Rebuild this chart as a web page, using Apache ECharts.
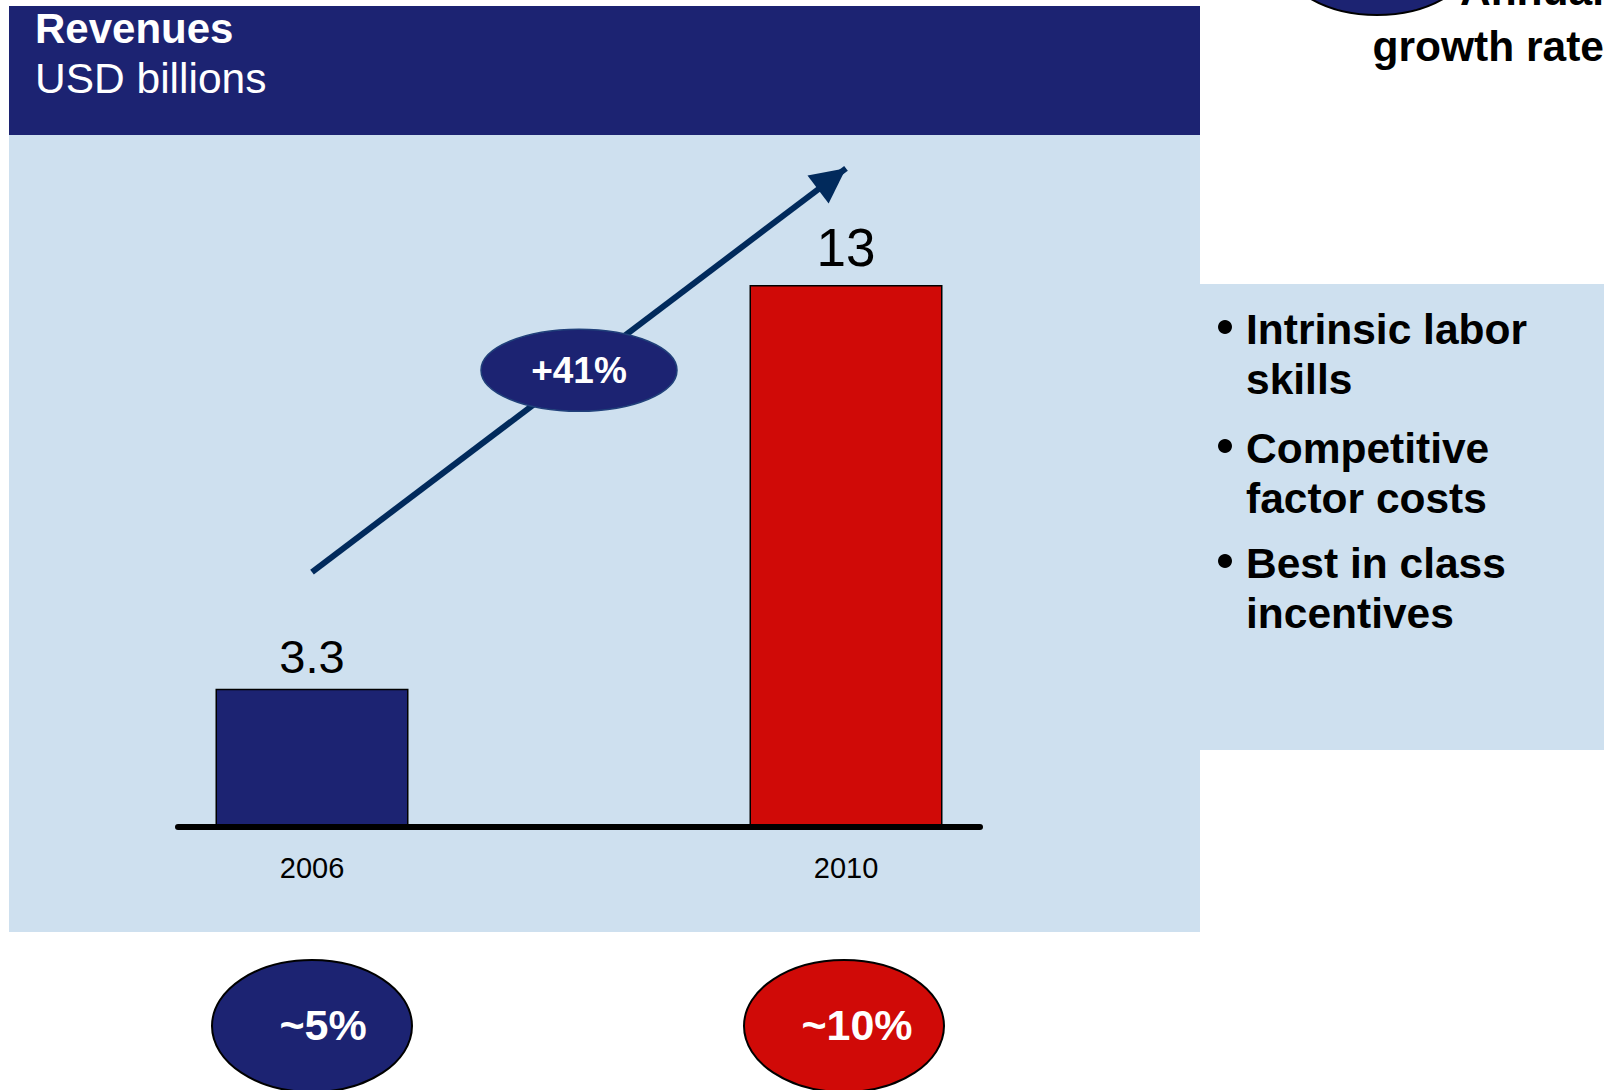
<!DOCTYPE html>
<html>
<head>
<meta charset="utf-8">
<script src="https://cdn.jsdelivr.net/npm/echarts@6/dist/echarts.min.js"></script>
<style>
  html, body { margin: 0; padding: 0; background: #ffffff; }
  #chart { width: 1613px; height: 1090px; }
</style>
</head>
<body>
<div id="chart"></div>
<script>
// Revenue by year (USD billions)
const categories = ['2006', '2010'];
const revenues = [3.3, 13];
const barColors = ['#1c2372', '#d00a07'];

// Annual growth rate shown under each year
const growthRates = ['~5%', '~10%'];

// Growth arrow between the two years, with its CAGR badge
const cagrLabel = '+41%';
const arrowFrom = 6.1;
const arrowTo = 15.8;

// Growth drivers listed in the side panel
const drivers = [
  ['Intrinsic labor', 'skills'],
  ['Competitive', 'factor costs'],
  ['Best in class', 'incentives']
];

const titleText = 'Revenues';
const unitText = 'USD billions';
const legendText = 'Annual\ngrowth rate';

const FONT = '"Liberation Sans", Arial, Helvetica, sans-serif';
const NAVY = '#1c2372';
const PANEL = '#cee0ef';
const yMax = 16;
const valueFontSizes = [47, 53];
const valueLabelGaps = [9, 11];

const chart = echarts.init(document.getElementById('chart'), null, { renderer: 'svg' });

chart.setOption({
  animation: false,
  backgroundColor: '#ffffff',
  grid: [
    { left: 45, width: 1068, top: 160, height: 666 },
    { left: 178, width: 802, top: 161, height: 666 }
  ],
  xAxis: [
    {
      type: 'category', gridIndex: 0, data: categories,
      axisLine: { show: false }, axisTick: { show: false }, splitLine: { show: false },
      axisLabel: { color: '#000', fontSize: 29, fontFamily: FONT, margin: 27 }
    },
    {
      type: 'category', gridIndex: 1, data: [''], position: 'bottom',
      axisLine: { show: true, onZero: false, lineStyle: { color: '#000', width: 6, cap: 'round' } },
      axisTick: { show: false }, axisLabel: { show: false }, splitLine: { show: false }, z: 3
    }
  ],
  yAxis: [
    { type: 'value', gridIndex: 0, min: 0, max: yMax, show: false },
    { type: 'value', gridIndex: 1, min: 0, max: yMax, show: false }
  ],
  series: [{
    type: 'bar',
    xAxisIndex: 0, yAxisIndex: 0,
    barWidth: 193,
    data: revenues.map((v, i) => ({
      value: v,
      itemStyle: { color: barColors[i], borderColor: '#000', borderWidth: 1.5 },
      label: { fontSize: valueFontSizes[i], distance: valueLabelGaps[i] }
    })),
    label: {
      show: true, position: 'top',
      color: '#000', fontFamily: FONT
    },
    emphasis: { disabled: true },
    markLine: {
      silent: true,
      animation: false,
      symbol: ['none', 'triangle'],
      symbolSize: 35,
      symbolOffset: [[0, 0], [0, '50%']],
      label: { show: false },
      emphasis: { disabled: true },
      lineStyle: { color: '#012a5c', width: 6, type: 'solid', cap: 'butt' },
      data: [[
        { coord: [categories[0], arrowFrom] },
        { coord: [categories[1], arrowTo] }
      ]]
    }
  }]
});

// Positions derived from the chart's own scales
const p0 = chart.convertToPixel({ gridIndex: 0 }, [categories[0], arrowFrom]);
const p1 = chart.convertToPixel({ gridIndex: 0 }, [categories[1], arrowTo]);
const mid = [(p0[0] + p1[0]) / 2, (p0[1] + p1[1]) / 2];
const catX = categories.map(c => chart.convertToPixel({ gridIndex: 0 }, [c, 0])[0]);

const graphics = [
  // header band and chart panel
  { type: 'rect', z: -10, shape: { x: 9, y: 6, width: 1191, height: 129 }, style: { fill: NAVY } },
  { type: 'rect', z: -10, shape: { x: 9, y: 135, width: 1191, height: 797 }, style: { fill: PANEL } },
  // side panel
  { type: 'rect', z: -10, shape: { x: 1200, y: 284, width: 404, height: 466 }, style: { fill: PANEL } },
  { type: 'text', z: 10, x: 35, y: 28,
    style: { text: titleText, fill: '#fff', fontSize: 42, fontWeight: 'bold', fontFamily: FONT, verticalAlign: 'middle' } },
  { type: 'text', z: 10, x: 35, y: 78,
    style: { text: unitText, fill: '#fff', fontSize: 42.5, fontFamily: FONT, verticalAlign: 'middle' } },
  // legend
  { type: 'ellipse', z: 10, shape: { cx: 1377, cy: -51, rx: 101, ry: 66 },
    style: { fill: NAVY, stroke: '#000', lineWidth: 2 } },
  { type: 'text', z: 10, x: 1604, y: -38,
    style: { text: legendText, fill: '#000', fontSize: 42.5, fontWeight: 'bold', fontFamily: FONT,
      align: 'right', verticalAlign: 'top', lineHeight: 56 } },
  // CAGR badge on the arrow
  { type: 'ellipse', z: 100, shape: { cx: mid[0], cy: mid[1], rx: 98, ry: 41 },
    style: { fill: NAVY, stroke: '#20407a', lineWidth: 1.5 } },
  { type: 'text', z: 101, x: mid[0], y: mid[1],
    style: { text: cagrLabel, fill: '#fff', fontSize: 37, fontWeight: 'bold', fontFamily: FONT,
      align: 'center', verticalAlign: 'middle' } }
];

// growth-rate badges under each year
growthRates.forEach((g, i) => {
  graphics.push({ type: 'ellipse', z: 10, shape: { cx: catX[i] - i * 2, cy: 1026, rx: 100, ry: 66 },
    style: { fill: barColors[i], stroke: '#000', lineWidth: 2 } });
  graphics.push({ type: 'text', z: 11, x: catX[i] + 11, y: 1025,
    style: { text: g, fill: '#fff', fontSize: 43, fontWeight: 'bold', fontFamily: FONT,
      align: 'center', verticalAlign: 'middle' } });
});

// bullet list of growth drivers
const bulletTops = [304, 423, 538];
drivers.forEach((lines, i) => {
  graphics.push({ type: 'circle', z: 10, shape: { cx: 1225, cy: bulletTops[i] + 23, r: 7 }, style: { fill: '#000' } });
  graphics.push({ type: 'text', z: 10, x: 1246, y: bulletTops[i],
    style: { text: lines.join('\n'), fill: '#000', fontSize: 42.5, fontWeight: 'bold', fontFamily: FONT,
      verticalAlign: 'top', lineHeight: 50 } });
});

chart.setOption({ graphic: graphics });
</script>
</body>
</html>
